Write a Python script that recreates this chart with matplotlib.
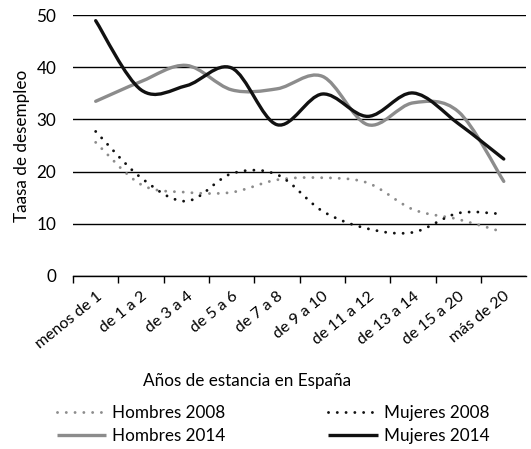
import numpy as np
import matplotlib
matplotlib.use("Agg")
import matplotlib.pyplot as plt
from matplotlib.path import Path
from matplotlib.patches import PathPatch
from matplotlib.lines import Line2D

plt.rcParams['font.family'] = ['Lato', 'DejaVu Sans']

categories = ['menos de 1', 'de 1 a 2', 'de 3 a 4', 'de 5 a 6', 'de 7 a 8',
              'de 9 a 10', 'de 11 a 12', 'de 13 a 14', 'de 15 a 20', 'más de 20']
hombres_2008 = [25.6, 17.5, 16.0, 16.0, 18.4, 18.8, 17.8, 12.7, 10.8, 8.3]
mujeres_2008 = [27.7, 18.8, 14.3, 19.6, 19.4, 12.4, 9.0, 8.3, 12.0, 11.8]
hombres_2014 = [33.5, 37.3, 40.4, 35.7, 35.9, 38.3, 29.0, 33.2, 31.5, 18.1]
mujeres_2014 = [49.0, 35.7, 36.5, 39.9, 29.0, 34.9, 30.6, 35.1, 29.2, 22.4]

FS = 12.3


################################################################################
# smoothed line like excel: cubic bezier through the points
def smooth_path(x, y):
    pts = np.column_stack([x, y])
    n = len(pts)
    verts = [pts[0]]
    codes = [Path.MOVETO]
    for i in range(n - 1):
        p0 = pts[max(i - 1, 0)]
        p1 = pts[i]
        p2 = pts[i + 1]
        p3 = pts[min(i + 2, n - 1)]
        c1 = p1 + (p2 - p0) / 6
        c2 = p2 - (p3 - p1) / 6
        verts += [c1, c2, p2]
        codes += [Path.CURVE4] * 3
    return Path(verts, codes)


fig = plt.figure(figsize=(5.31, 4.49), dpi=100)
ax = fig.add_axes([0.1375, 0.3864, 0.8539, 0.5791])

x = np.arange(len(categories))
series = [
    (hombres_2008, '#8c8c8c', 'dot', 'Hombres 2008'),
    (mujeres_2008, '#111111', 'dot', 'Mujeres 2008'),
    (hombres_2014, '#8c8c8c', 'solid', 'Hombres 2014'),
    (mujeres_2014, '#111111', 'solid', 'Mujeres 2014'),
]
handles = {}
for vals, col, style, lab in series:
    if style == 'dot':
        ls = (0, (0.01, 3.0))
        lw = 2.1
    else:
        ls = '-'
        lw = 2.4
    patch = PathPatch(smooth_path(x, vals), facecolor='none', edgecolor=col,
                      lw=lw, linestyle=ls, capstyle='round', joinstyle='round', zorder=3)
    ax.add_patch(patch)
    handles[lab] = Line2D([0], [0], color=col, lw=lw, linestyle=ls,
                          dash_capstyle='round', solid_capstyle='butt', label=lab)

ax.set_xlim(-0.5, len(categories) - 0.5)
ax.set_ylim(0, 50)
ax.set_yticks(range(0, 51, 10))
ax.yaxis.grid(True, color='black', lw=1)
ax.set_axisbelow(True)
for s in ['left', 'right', 'top']:
    ax.spines[s].set_visible(False)
ax.spines['bottom'].set_linewidth(1)
ax.tick_params(axis='y', length=0, labelsize=FS, pad=12)

ax.set_xticks(np.arange(-0.5, len(categories) - 0.5, 1))
ax.set_xticklabels([])
ax.set_xticks(x, minor=True)
ax.set_xticklabels(categories, minor=True, rotation=39, ha='right',
                   rotation_mode='anchor', fontsize=11.5)
ax.tick_params(axis='x', which='major', length=5, width=1, direction='out')
ax.tick_params(axis='x', which='minor', length=0, pad=10)

ax.set_ylabel('Taasa de desempleo', fontsize=FS, labelpad=5)
fig.text(0.465, 0.152, 'Años de estancia en España', ha='center', va='center', fontsize=FS)

# legend in two separate columns
leg_kw = dict(frameon=False, fontsize=FS, handlelength=2.9, handletextpad=0.35,
              labelspacing=0.45, borderpad=0, borderaxespad=0, loc='center left')
leg1 = fig.legend(handles=[handles['Hombres 2008'], handles['Hombres 2014']],
                  bbox_to_anchor=(0.107, 0.0546), **leg_kw)
leg2 = fig.legend(handles=[handles['Mujeres 2008'], handles['Mujeres 2014']],
                  bbox_to_anchor=(0.618, 0.0546), **leg_kw)

fig.savefig('out.png', dpi=100)
